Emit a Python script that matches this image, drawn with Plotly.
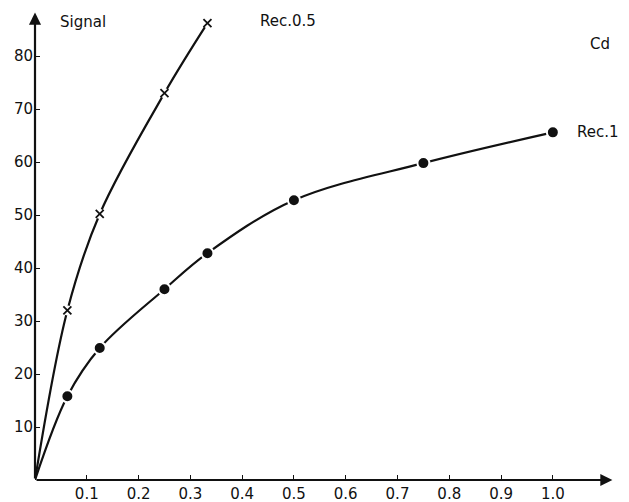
import plotly.graph_objects as go

# Cd calibration: signal versus amount (ng) for two recorder settings
rec05_ng = [0.0625, 0.125, 0.25, 0.333]
rec05_signal = [32, 50.2, 73, 86.2]

rec1_ng = [0.0625, 0.125, 0.25, 0.333, 0.5, 0.75, 1.0]
rec1_signal = [15.8, 24.9, 36, 42.8, 52.8, 59.8, 65.6]

x_ticks = [0.1, 0.2, 0.3, 0.4, 0.5, 0.6, 0.7, 0.8, 0.9, 1.0]
x_tick_text = ["0.1", "0.2", "0.3", "0.4", "0.5", "0.6", "0.7", "0.8", "0.9", "1.0"]
y_ticks = [10, 20, 30, 40, 50, 60, 70, 80]

INK = "#111111"
FONT = "DejaVu Sans, Liberation Sans, sans-serif"
X_MAX, Y_MAX = 1.12, 88.5

fig = go.Figure()

# smooth curves start from the origin
curve = dict(color=INK, width=2.2, shape="spline", smoothing=1.0)
fig.add_trace(go.Scatter(x=[0] + rec05_ng, y=[0] + rec05_signal, mode="lines",
                         line=curve, hoverinfo="skip"))
fig.add_trace(go.Scatter(x=[0] + rec1_ng, y=[0] + rec1_signal, mode="lines",
                         line=curve, hoverinfo="skip"))
# white halo behind the crosses so the curve breaks at each point
fig.add_trace(go.Scatter(x=rec05_ng, y=rec05_signal, mode="markers",
                         marker=dict(symbol="circle", size=10, color="white"),
                         hoverinfo="skip"))
fig.add_trace(go.Scatter(x=rec05_ng, y=rec05_signal, mode="markers",
                         marker=dict(symbol="x-thin", size=8, line=dict(color=INK, width=1.8))))
fig.add_trace(go.Scatter(x=rec1_ng, y=rec1_signal, mode="markers",
                         marker=dict(symbol="circle", size=12, color=INK,
                                     line=dict(color="white", width=2))))

axis_common = dict(showgrid=False, zeroline=False, showline=False, automargin=False,
                   ticks="inside", ticklen=5, tickwidth=1.4, tickcolor=INK,
                   tickfont=dict(family=FONT, size=15, color=INK))

fig.update_xaxes(range=[0, X_MAX], tickvals=x_ticks, ticktext=x_tick_text,
                 ticklabelstandoff=3, **axis_common)
fig.update_yaxes(range=[0, Y_MAX], tickvals=y_ticks, ticklabelstandoff=1, **axis_common)

# axes drawn as arrows
arrow = dict(xref="x", yref="y", axref="x", ayref="y", text="", showarrow=True,
             arrowhead=2, arrowsize=1.1, arrowwidth=2.2, arrowcolor=INK)
annotations = [
    dict(x=X_MAX - 0.005, y=0, ax=0, ay=0, **arrow),
    dict(x=0, y=Y_MAX - 0.3, ax=0, ay=0, **arrow),
]

label_font = dict(family=FONT, size=15, color=INK)
texts = [
    ("Signal", 0.045, 86.5),
    ("Rec.0.5", 0.43, 86.6),
    ("Cd", 1.068, 82.2),
    ("Rec.1", 1.042, 65.6),
    ("ng", 1.12, -2.3),
]
for t, x, y in texts:
    annotations.append(dict(x=x, y=y, xref="x", yref="y", text=t, showarrow=False,
                            xanchor="left", yanchor="middle", font=label_font))

fig.update_layout(
    width=629, height=502,
    margin=dict(l=35, r=14, t=11, b=22),
    paper_bgcolor="white", plot_bgcolor="white",
    showlegend=False,
    annotations=annotations,
)

fig.write_html("out.html")
